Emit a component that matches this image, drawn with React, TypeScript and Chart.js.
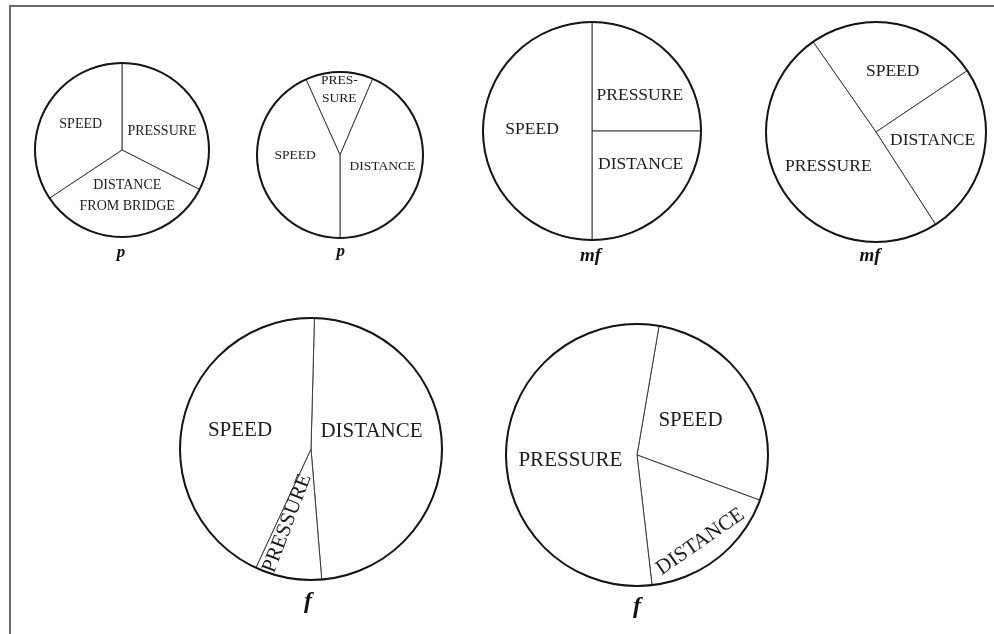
import React, { useEffect, useRef } from "react";
import { Chart, registerables } from "chart.js";

Chart.register(...registerables);

// ---------- DATA (slice sizes in degrees of arc) ----------
// Pie 1 — "p"
const pie1Categories = [["PRESSURE"], ["DISTANCE", "FROM BRIDGE"], ["SPEED"]];
const pie1Values = [117, 119.4, 123.6];
const pie1Tag = "p";

// Pie 2 — "p"
const pie2Categories = [["PRES-", "SURE"], ["DISTANCE"], ["SPEED"]];
const pie2Values = [47.4, 156.8, 155.8];
const pie2Tag = "p";

// Pie 3 — "mf"
const pie3Categories = [["PRESSURE"], ["DISTANCE"], ["SPEED"]];
const pie3Values = [90, 90, 180];
const pie3Tag = "mf";

// Pie 4 — "mf"
const pie4Categories = [["SPEED"], ["DISTANCE"], ["PRESSURE"]];
const pie4Values = [91, 91.1, 177.9];
const pie4Tag = "mf";

// Pie 5 — "f"
const pie5Categories = [["DISTANCE"], ["PRESSURE"], ["SPEED"]];
const pie5Values = [173.8, 29.6, 156.6];
const pie5Tag = "f";

// Pie 6 — "f"
const pie6Categories = [["SPEED"], ["DISTANCE"], ["PRESSURE"]];
const pie6Values = [100.5, 63.2, 196.3];
const pie6Tag = "f";

// ---------- LAYOUT / STYLE ----------
type Spec = {
  categories: string[][];
  values: number[];
  tag: string;
  rotation: number; // degrees, where the first slice starts (0 = top)
  cx: number;
  cy: number;
  r: number;
  fontSize: number;
  lineH: number;
  tagSize: number;
  tagDx: number;
  tagDy: number;
  // per label: [angle offset from slice middle (deg), radius fraction, text rotation (deg)]
  place: number[][];
};

const specs: Spec[] = [
  {
    categories: pie1Categories, values: pie1Values, tag: pie1Tag,
    rotation: 0, cx: 121.5, cy: 150, r: 87, fontSize: 14, lineH: 21,
    tagSize: 17, tagDx: -1, tagDy: 16,
    place: [[5.9, 0.51, 0], [-3.2, 0.53, 0], [3.9, 0.56, 0]],
  },
  {
    categories: pie2Categories, values: pie2Values, tag: pie2Tag,
    rotation: -24.2, cx: 340, cy: 155, r: 83, fontSize: 13.5, lineH: 17.6,
    tagSize: 17, tagDx: 0.7, tagDy: 14,
    place: [[-0.1, 0.79, 0], [3.7, 0.53, 0], [11.2, 0.54, 0]],
  },
  {
    categories: pie3Categories, values: pie3Values, tag: pie3Tag,
    rotation: 0, cx: 591.5, cy: 131, r: 109, fontSize: 17.5, lineH: 20,
    tagSize: 19, tagDx: -1.5, tagDy: 16.5,
    place: [[8.6, 0.545, 0], [-10.8, 0.54, 0], [1.6, 0.55, 0]],
  },
  {
    categories: pie4Categories, values: pie4Values, tag: pie4Tag,
    rotation: -34.9, cx: 876, cy: 132, r: 110, fontSize: 17.5, lineH: 20,
    tagSize: 19, tagDx: -6, tagDy: 14.5,
    place: [[4.7, 0.575, 0], [-3.65, 0.52, 0], [-2.15, 0.536, 0]],
  },
  {
    categories: pie5Categories, values: pie5Values, tag: pie5Tag,
    rotation: 1.5, cx: 311, cy: 449, r: 131, fontSize: 21, lineH: 24,
    tagSize: 24, tagDx: -3, tagDy: 21.5,
    place: [[-14.3, 0.48, 0], [7.6, 0.595, -69], [1.3, 0.56, 0]],
  },
  {
    categories: pie6Categories, values: pie6Values, tag: pie6Tag,
    rotation: 9.7, cx: 636.5, cy: 455, r: 131, fontSize: 21, lineH: 24,
    tagSize: 24, tagDx: 0, tagDy: 21,
    place: [[-2.65, 0.485, 0], [2, 0.82, -34.7], [-5.85, 0.51, 0]],
  },
];

const PAD = 45;
const SERIF = '"Liberation Serif", "DejaVu Serif", serif';

function makeLabelPlugin(spec: Spec) {
  return {
    id: "pieLabels",
    afterDatasetsDraw(chart: any) {
      const meta = chart.getDatasetMeta(0);
      const ctx: CanvasRenderingContext2D = chart.ctx;
      const first = meta.data[0];
      if (!first) return;
      const { x, y, outerRadius } = first.getProps(["x", "y", "outerRadius"], true);

      ctx.save();
      // thicker outer rim
      ctx.beginPath();
      ctx.arc(x, y, outerRadius, 0, Math.PI * 2);
      ctx.lineWidth = 2;
      ctx.strokeStyle = "#151515";
      ctx.stroke();

      ctx.fillStyle = "#1c1c1c";
      ctx.font = `${spec.fontSize}px ${SERIF}`;
      ctx.textAlign = "center";
      ctx.textBaseline = "middle";
      meta.data.forEach((arc: any, i: number) => {
        const { startAngle, endAngle } = arc.getProps(["startAngle", "endAngle"], true);
        const p = spec.place[i];
        const ang = (startAngle + endAngle) / 2 + (p[0] * Math.PI) / 180;
        const rr = p[1] * outerRadius;
        const lx = x + Math.cos(ang) * rr;
        const ly = y + Math.sin(ang) * rr;
        const raw = chart.data.labels[i];
        const lines: string[] = Array.isArray(raw) ? raw : [String(raw)];
        ctx.save();
        ctx.translate(lx, ly);
        ctx.rotate((p[2] * Math.PI) / 180);
        const h = (lines.length - 1) * spec.lineH;
        lines.forEach((ln, k) => {
          ctx.fillText(ln, 0, -h / 2 + k * spec.lineH);
        });
        ctx.restore();
      });

      // tag under the pie
      ctx.font = `italic bold ${spec.tagSize}px ${SERIF}`;
      ctx.fillStyle = "#111";
      ctx.fillText(spec.tag, x + spec.tagDx, y + outerRadius + spec.tagDy);
      ctx.restore();
    },
  };
}

function PieCanvas({ spec }: { spec: Spec }) {
  const ref = useRef<HTMLCanvasElement | null>(null);
  const size = Math.round(2 * (spec.r + PAD));
  useEffect(() => {
    if (!ref.current) return;
    const chart = new Chart(ref.current, {
      type: "pie",
      data: {
        labels: spec.categories as any,
        datasets: [
          {
            data: spec.values,
            backgroundColor: "#ffffff",
            borderColor: "#3a3a3a",
            borderWidth: 1,
            hoverOffset: 0,
          },
        ],
      },
      options: {
        animation: false,
        responsive: false,
        devicePixelRatio: 1,
        rotation: spec.rotation,
        radius: spec.r,
        layout: { padding: 0 },
        events: [],
        plugins: {
          legend: { display: false },
          tooltip: { enabled: false },
          title: { display: false },
        },
      },
      plugins: [makeLabelPlugin(spec)],
    } as any);
    return () => chart.destroy();
  }, [spec]);
  const left = spec.cx - size / 2;
  const top = spec.cy - size / 2;
  return (
    <canvas
      ref={ref}
      width={size}
      height={size}
      style={{ position: "absolute", left, top, width: size, height: size }}
    />
  );
}

export default function App() {
  return (
    <div
      style={{
        position: "absolute",
        left: 0,
        top: 0,
        width: 994,
        height: 634,
        overflow: "hidden",
        background: "#ffffff",
      }}
    >
      <div
        style={{
          position: "absolute",
          left: 9,
          top: 5,
          width: 994,
          height: 640,
          borderTop: "2px solid #6a6a6a",
          borderLeft: "2px solid #6a6a6a",
        }}
      />
      {specs.map((s, i) => (
        <PieCanvas key={i} spec={s} />
      ))}
    </div>
  );
}
